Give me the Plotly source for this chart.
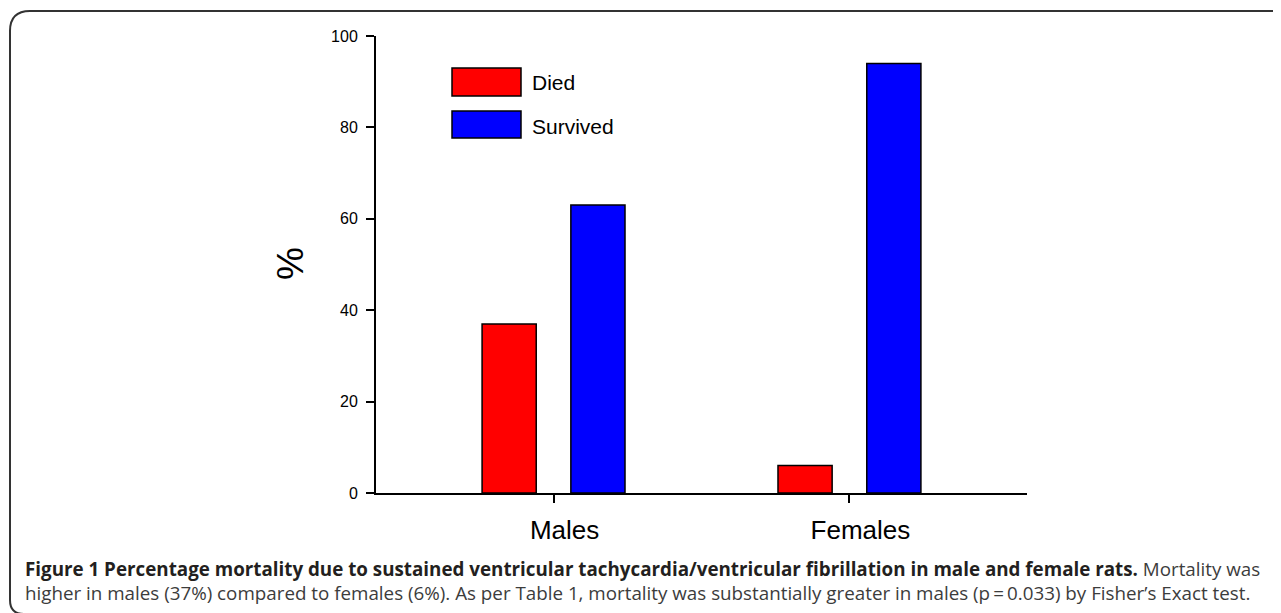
import plotly.graph_objects as go

# ---- data ----
categories = ["Males", "Females"]
died = [37, 6]
survived = [63, 94]
series_names = ["Died", "Survived"]
y_ticks = [0, 20, 40, 60, 80, 100]
caption_bold = ("Figure 1 Percentage mortality due to sustained ventricular "
                "tachycardia/ventricular fibrillation in male and female rats.")
caption_line1_rest = " Mortality was"
caption_line2 = ("higher in males (37%) compared to females (6%). As per Table 1, "
                 "mortality was substantially greater in males (p\u2009=\u20090.033) by Fisher\u2019s Exact test.")

W, H = 1281, 613
OFF = 8  # page body margin
L, R, T, B = 376, 1027, 36, 493  # plot area in page pixels


def px(x):
    return (x - L) / (R - L)


def py(y):
    return (B - y) / (B - T)


fig = go.Figure()
fig.add_trace(go.Bar(x=categories, y=died, name=series_names[0],
                     marker=dict(color="#ff0000", line=dict(color="#000000", width=1.5))))
fig.add_trace(go.Bar(x=categories, y=survived, name=series_names[1],
                     marker=dict(color="#0000ff", line=dict(color="#000000", width=1.5))))

shapes = []
# frame with rounded corners
frame = (f"M {px(24)},{py(614)} Q {px(10)},{py(614)} {px(10)},{py(600)} "
         f"L {px(10)},{py(31)} Q {px(10)},{py(11)} {px(30)},{py(11)} L {px(1300)},{py(11)}")
shapes.append(dict(type="path", xref="paper", yref="paper", path=frame,
                   line=dict(color="#333333", width=2)))
# legend boxes
for (y0, y1, col) in [(68, 96, "#ff0000"), (111, 138, "#0000ff")]:
    shapes.append(dict(type="rect", xref="paper", yref="paper",
                       x0=px(452), x1=px(521), y0=py(y1), y1=py(y0),
                       fillcolor=col, line=dict(color="#000000", width=1.5)))

annotations = []
for name, yc in zip(series_names, [82, 126]):
    annotations.append(dict(xref="paper", yref="paper", x=px(530), y=py(yc),
                            text=name, showarrow=False, xanchor="left", yanchor="middle",
                            font=dict(family="Liberation Sans, Arial", size=21, color="#000000")))
# y axis title
annotations.append(dict(xref="paper", yref="paper", x=px(290), y=py(264), text="%",
                        textangle=-90, showarrow=False, xanchor="center", yanchor="middle",
                        font=dict(family="Liberation Sans, Arial", size=37, color="#000000")))
# caption
annotations.append(dict(xref="paper", yref="paper", x=px(23), y=py(569),
                        text=f"<b>{caption_bold}</b><span style='color:#3c3c3c'>{caption_line1_rest}</span>",
                        showarrow=False, xanchor="left", yanchor="middle",
                        font=dict(family="Open Sans", size=18.8, color="#231f20")))
annotations.append(dict(xref="paper", yref="paper", x=px(23), y=py(593),
                        text=caption_line2,
                        showarrow=False, xanchor="left", yanchor="middle",
                        font=dict(family="Open Sans", size=18.8, color="#3c3c3c")))

fig.update_layout(
    width=W, height=H,
    margin=dict(l=L - OFF, r=W - R + OFF, t=T - OFF, b=H - B + OFF, pad=0),
    paper_bgcolor="#ffffff", plot_bgcolor="#ffffff",
    barmode="group", bargap=0.4, bargroupgap=0.39,
    showlegend=False,
    shapes=shapes, annotations=annotations,
    xaxis=dict(range=[-0.6, 1.6], showline=True, linecolor="#000000", linewidth=2,
               ticks="outside", ticklen=8, tickwidth=1.5, tickcolor="#000000",
               showgrid=False, zeroline=False, ticklabelshift=11, ticklabelstandoff=5,
               tickfont=dict(family="Liberation Sans, Arial", size=26, color="#000000")),
    yaxis=dict(range=[0, 100], tickvals=y_ticks, showline=True, linecolor="#000000", linewidth=2,
               ticks="outside", ticklen=8, tickwidth=1.5, tickcolor="#000000",
               showgrid=False, zeroline=False, ticklabelstandoff=5,
               tickfont=dict(family="Liberation Sans, Arial", size=16, color="#000000")),
)

fig.write_html("out.html")
